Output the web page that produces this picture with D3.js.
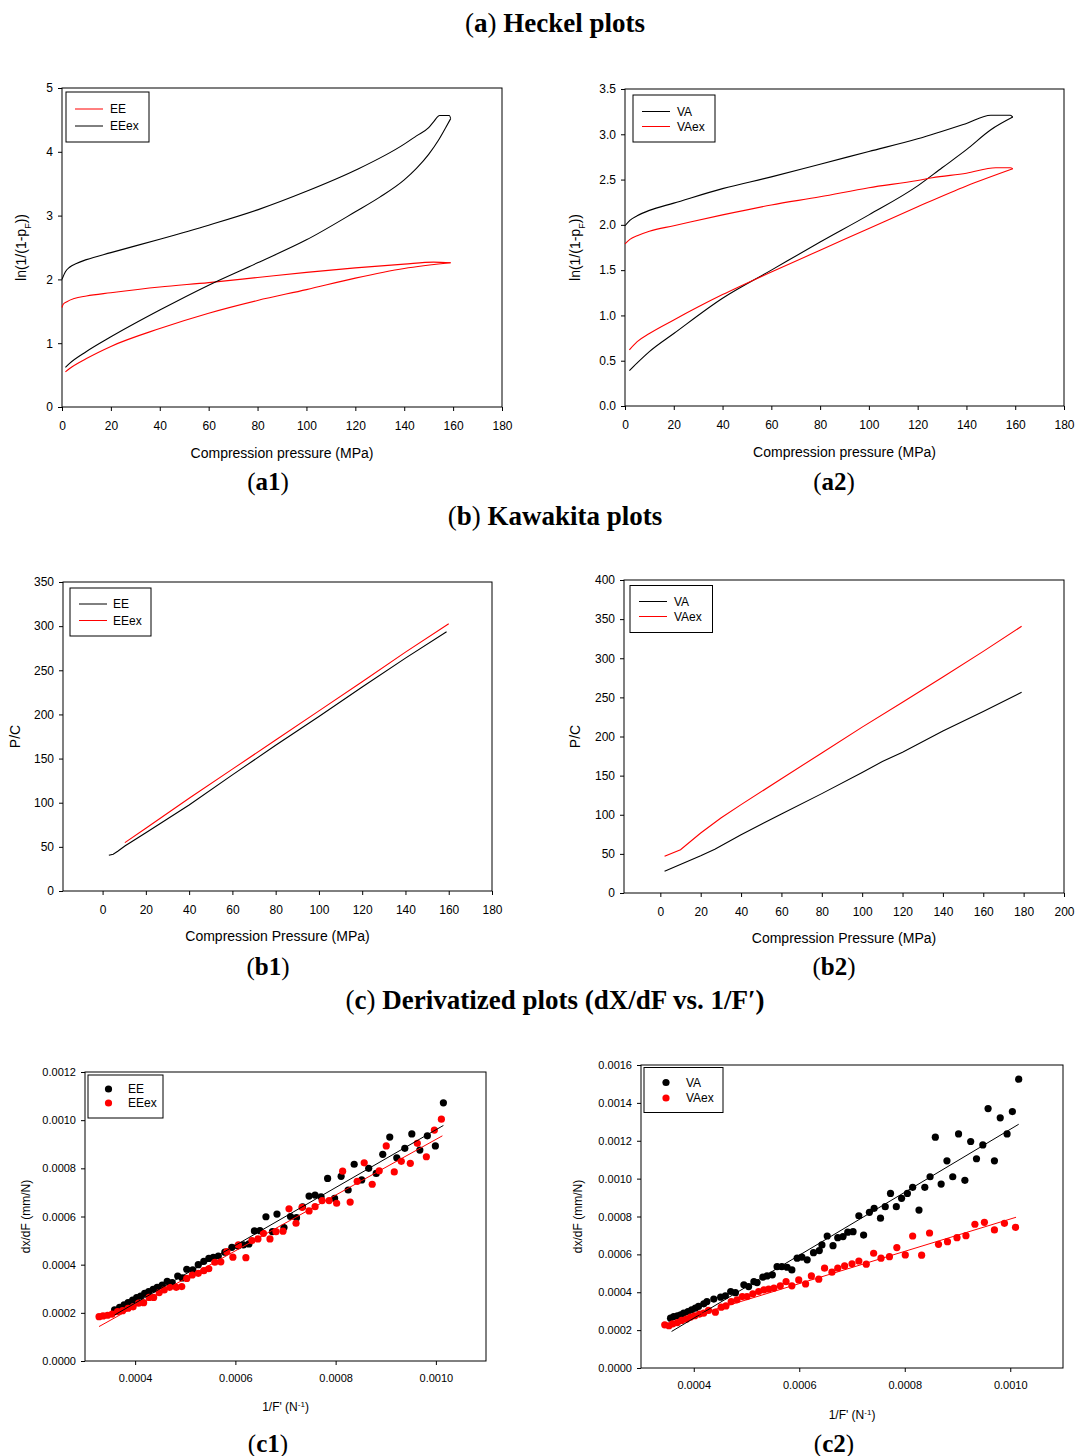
<!DOCTYPE html>
<html>
<head>
<meta charset="utf-8">
<script src="https://cdn.jsdelivr.net/npm/d3@7"></script>
<style>
body { margin: 0; background: #fff; }
text { font-family: "Liberation Sans", Arial, sans-serif; fill: #000; }
.ttl { font-family: "Liberation Serif", "Times New Roman", serif; }
</style>
</head>
<body>
<div id="container"></div>
<script>
// ---- data: Heckel plots (compression branch, then decompression branch back to 0) ----
const heckelEE = [[1.4,0.55],[3,0.60],[10,0.76],[20,0.95],[40,1.23],[60,1.47],[80,1.67],[100,1.84],[120,2.02],[140,2.17],[159,2.26],
  [152,2.27],[140,2.24],[120,2.18],[100,2.11],[80,2.03],[60,1.95],[40,1.88],[20,1.79],[10,1.74],[5,1.70],[2,1.65],[0.5,1.61],[0,1.56]];
const heckelEEex = [[1.4,0.62],[3,0.68],[10,0.87],[20,1.10],[40,1.52],[60,1.91],[80,2.26],[100,2.62],[120,3.06],[130,3.29],[140,3.56],[145,3.74],[150,3.96],[154,4.18],[157,4.38],[159,4.52],
  [158.5,4.57],[154.5,4.57],[152,4.47],[150,4.38],[145,4.25],[140,4.12],[120,3.71],[100,3.38],[80,3.09],[60,2.85],[40,2.63],[20,2.42],[10,2.31],[5.9,2.25],[3.1,2.19],[1.4,2.12],[0,2.0]];
const heckelVA = [[1.8,0.39],[4.8,0.47],[10,0.60],[20,0.80],[40,1.19],[60,1.50],[80,1.81],[100,2.11],[120,2.43],[130,2.63],[140,2.83],[150,3.05],[159,3.19],
  [158,3.21],[150,3.21],[140,3.12],[120,2.95],[100,2.81],[80,2.67],[60,2.53],[40,2.40],[20,2.24],[10,2.16],[5,2.10],[2,2.05],[0,1.99]];
const heckelVAex = [[1.8,0.62],[5,0.71],[10,0.80],[20,0.95],[40,1.23],[60,1.48],[80,1.72],[100,1.96],[120,2.20],[140,2.43],[159,2.62],
  [158,2.63],[152,2.63],[140,2.57],[126,2.52],[120,2.49],[100,2.41],[80,2.31],[60,2.22],[40,2.11],[20,1.99],[10,1.93],[5,1.88],[2,1.84],[0,1.79]];

// ---- data: Kawakita plots ----
const kawaEE = [[2.9,40.4],[4.9,41.6],[7,45],[10.3,51],[20,66],[40,97.5],[60,131.5],[80,165],[100,197.7],[120,231],[140,263.8],[159,293.6]];
const kawaEEex = [[10.3,54.8],[20,71],[40,105],[60,138],[80,171],[100,204],[120,237],[140,270.6],[160,302.7]];
const kawaVA = [[2.1,27.7],[20,47.7],[27,56],[40,74.5],[60,101],[80,127],[100,154],[110,168],[120,180],[140,207],[160,232],[179,256.4]];
const kawaVAex = [[2.1,46.9],[10,55.4],[20,76.7],[30,95.8],[40,112.9],[60,146],[80,179],[100,212],[120,243.7],[140,276],[160,308.8],[179,340.8]];

// ---- data: derivatized plots (1/F', dx/dF) ----
const derivEE = [[0.000359,0.000212],[0.000369,0.000223],[0.000378,0.000233],[0.000386,0.000242],[0.000395,0.000253],[0.000403,0.000263],[0.000411,0.000270],[0.000419,0.000281],[0.000427,0.000288],[0.000436,0.000298],[0.000444,0.000306],[0.000454,0.000315],[0.000464,0.000331],[0.000474,0.000326],[0.000485,0.000353],[0.000494,0.000345],[0.000503,0.000381],[0.000515,0.000378],[0.000526,0.000400],[0.000537,0.000414],[0.000547,0.000426],[0.000556,0.000430],[0.000566,0.000436],[0.000579,0.000452],[0.000593,0.000472],[0.000605,0.000477],[0.000616,0.000482],[0.000627,0.000486],[0.000638,0.000540],[0.000649,0.000541],[0.000661,0.000599],[0.000674,0.000537],[0.000683,0.000610],[0.000697,0.000554],[0.000710,0.000600],[0.000722,0.000595],[0.000734,0.000640],[0.000747,0.000685],[0.000759,0.000689],[0.000771,0.000682],[0.000784,0.000758],[0.000798,0.000675],[0.000811,0.000767],[0.000825,0.000710],[0.000837,0.000817],[0.000852,0.000752],[0.000866,0.000800],[0.000881,0.000779],[0.000894,0.000858],[0.000908,0.000930],[0.000922,0.000844],[0.000938,0.000883],[0.000952,0.000943],[0.000968,0.000876],[0.000983,0.000935],[0.000999,0.000893],[0.001015,0.001072]];
const derivEEex = [[0.000328,0.000184],[0.000336,0.000187],[0.000345,0.000190],[0.000354,0.000195],[0.000365,0.000205],[0.000375,0.000209],[0.000386,0.000219],[0.000396,0.000225],[0.000407,0.000240],[0.000417,0.000242],[0.000428,0.000264],[0.000437,0.000264],[0.000448,0.000284],[0.000458,0.000295],[0.000469,0.000306],[0.000482,0.000306],[0.000493,0.000309],[0.000503,0.000343],[0.000514,0.000357],[0.000526,0.000364],[0.000537,0.000375],[0.000547,0.000383],[0.000559,0.000410],[0.000571,0.000412],[0.000583,0.000454],[0.000595,0.000431],[0.000606,0.000482],[0.000621,0.000429],[0.000633,0.000500],[0.000645,0.000507],[0.000656,0.000530],[0.000669,0.000507],[0.000681,0.000537],[0.000695,0.000539],[0.000707,0.000632],[0.000721,0.000572],[0.000733,0.000638],[0.000747,0.000623],[0.000759,0.000641],[0.000773,0.000666],[0.000787,0.000666],[0.000802,0.000655],[0.000814,0.000788],[0.000829,0.000660],[0.000843,0.000746],[0.000857,0.000823],[0.000873,0.000734],[0.000887,0.000790],[0.000901,0.000893],[0.000917,0.000785],[0.000931,0.000829],[0.000949,0.000821],[0.000963,0.000904],[0.000981,0.000848],[0.000997,0.000959],[0.001011,0.001004]];
const derivVA = [[0.000356,0.000263],[0.000362,0.000272],[0.000369,0.000276],[0.000375,0.000281],[0.000381,0.000290],[0.000389,0.000298],[0.000396,0.000307],[0.000403,0.000316],[0.000409,0.000325],[0.000419,0.000339],[0.000425,0.000351],[0.000438,0.000364],[0.000451,0.000374],[0.000460,0.000381],[0.000470,0.000404],[0.000479,0.000398],[0.000495,0.000439],[0.000504,0.000430],[0.000514,0.000456],[0.000520,0.000451],[0.000531,0.000480],[0.000539,0.000486],[0.000549,0.000492],[0.000558,0.000535],[0.000567,0.000535],[0.000577,0.000532],[0.000586,0.000518],[0.000596,0.000580],[0.000605,0.000585],[0.000615,0.000571],[0.000627,0.000609],[0.000638,0.000620],[0.000643,0.000650],[0.000653,0.000697],[0.000664,0.000646],[0.000673,0.000688],[0.000683,0.000694],[0.000692,0.000717],[0.000702,0.000720],[0.000713,0.000804],[0.000722,0.000702],[0.000733,0.000822],[0.000742,0.000843],[0.000754,0.000791],[0.000763,0.000852],[0.000773,0.000922],[0.000784,0.000852],[0.000794,0.000896],[0.000805,0.000922],[0.000815,0.000954],[0.000827,0.000834],[0.000838,0.000954],[0.000848,0.001010],[0.000858,0.001219],[0.000869,0.000971],[0.000880,0.001094],[0.000891,0.001010],[0.000902,0.001236],[0.000914,0.000991],[0.000925,0.001196],[0.000936,0.001105],[0.000948,0.001178],[0.000958,0.001370],[0.000970,0.001094],[0.000981,0.001321],[0.000994,0.001236],[0.001004,0.001354],[0.001016,0.001525]];
const derivVAex = [[0.000345,0.000228],[0.000353,0.000223],[0.000360,0.000233],[0.000369,0.000240],[0.000377,0.000251],[0.000386,0.000258],[0.000394,0.000269],[0.000402,0.000276],[0.000411,0.000285],[0.000419,0.000290],[0.000428,0.000304],[0.000441,0.000295],[0.000452,0.000321],[0.000461,0.000328],[0.000471,0.000351],[0.000482,0.000360],[0.000492,0.000377],[0.000501,0.000377],[0.000512,0.000392],[0.000523,0.000404],[0.000533,0.000413],[0.000542,0.000416],[0.000552,0.000422],[0.000564,0.000434],[0.000575,0.000456],[0.000586,0.000434],[0.000599,0.000465],[0.000612,0.000444],[0.000623,0.000486],[0.000637,0.000469],[0.000648,0.000527],[0.000662,0.000506],[0.000673,0.000527],[0.000686,0.000539],[0.000700,0.000550],[0.000713,0.000565],[0.000727,0.000548],[0.000741,0.000606],[0.000755,0.000580],[0.000771,0.000588],[0.000785,0.000636],[0.000801,0.000597],[0.000815,0.000697],[0.000832,0.000596],[0.000847,0.000713],[0.000864,0.000653],[0.000881,0.000667],[0.000899,0.000688],[0.000916,0.000699],[0.000933,0.000759],[0.000951,0.000769],[0.000970,0.000729],[0.000989,0.000764],[0.001010,0.000743]];
// regression line end points
const fitEE = [[0.000359,0.000191],[0.001015,0.000978]];
const fitEEex = [[0.000328,0.000143],[0.001013,0.000935]];
const fitVA = [[0.000358,0.000193],[0.001016,0.001287]];
const fitVAex = [[0.000345,0.000228],[0.001011,0.000796]];

// ---- ticks ----
const ticks0to180 = d3.range(0, 181, 20);
const ticks0to200 = d3.range(0, 201, 20);
const ticksHeckelA1 = [0, 1, 2, 3, 4, 5];
const ticksHeckelA2 = [0, 0.5, 1, 1.5, 2, 2.5, 3, 3.5];
const ticksKawaB1 = d3.range(0, 351, 50);
const ticksKawaB2 = d3.range(0, 401, 50);
const ticksDerivX = [0.0004, 0.0006, 0.0008, 0.0010];
const ticksDerivC1 = [0, 0.0002, 0.0004, 0.0006, 0.0008, 0.0010, 0.0012];
const ticksDerivC2 = [0, 0.0002, 0.0004, 0.0006, 0.0008, 0.0010, 0.0012, 0.0014, 0.0016];

const svg = d3.select('#container')
  .append('svg')
  .attr('width', 1078)
  .attr('height', 1456);

// section titles and panel labels
function serifLabel(x, y, size, letter, rest) {
  const t = svg.append('text').attr('class', 'ttl').attr('x', x).attr('y', y)
    .attr('text-anchor', 'middle').style('font-size', size + 'px');
  t.append('tspan').text('(');
  t.append('tspan').attr('font-weight', 'bold').text(letter);
  t.append('tspan').text(')');
  if (rest) t.append('tspan').attr('font-weight', 'bold').text(rest);
}
serifLabel(555, 32, 27, 'a', ' Heckel plots');
serifLabel(555, 525, 27, 'b', ' Kawakita plots');
serifLabel(555, 1009, 27, 'c', ' Derivatized plots (dX/dF vs. 1/F\u2032)');
serifLabel(268, 490, 25, 'a1');
serifLabel(834, 490, 25, 'a2');
serifLabel(268, 975, 25, 'b1');
serifLabel(834, 975, 25, 'b2');
serifLabel(268, 1452, 25, 'c1');
serifLabel(834, 1452, 25, 'c2');

// split a loop into its loading and unloading branches, each sorted by x
function branches(data) {
  const iMax = d3.maxIndex(data, d => d[0]);
  const up = data.slice(0, iMax + 1);
  const down = data.slice(iMax).sort((a, b) => a[0] - b[0]);
  return [up, down];
}

function panel(p) {
  const x = d3.scaleLinear().domain(p.xDomain).range([p.left, p.right]);
  const y = d3.scaleLinear().domain(p.yDomain).range([p.bottom, p.top]);
  const g = svg.append('g');

  // axes (outward ticks)
  const ax = g.append('g').attr('transform', `translate(0,${p.bottom})`)
    .call(d3.axisBottom(x).tickValues(p.xTicks).tickFormat(p.xFmt).tickSize(4).tickPadding(p.xPad));
  const ay = g.append('g').attr('transform', `translate(${p.left},0)`)
    .call(d3.axisLeft(y).tickValues(p.yTicks).tickFormat(p.yFmt).tickSize(4).tickPadding(5));
  [ax, ay].forEach(a => {
    a.select('.domain').remove();
    a.selectAll('text').style('font-size', p.tickFont + 'px').style('font-family', '"Liberation Sans", Arial, sans-serif');
  });

  // frame
  g.append('rect')
    .attr('x', p.left).attr('y', p.top)
    .attr('width', p.right - p.left).attr('height', p.bottom - p.top)
    .attr('fill', 'none').attr('stroke', '#000').attr('stroke-width', 1);

  // axis titles
  g.append('text')
    .attr('x', (p.left + p.right) / 2).attr('y', p.bottom + p.xTitleDy)
    .attr('text-anchor', 'middle').style('font-size', p.titleFont + 'px')
    .call(p.xTitle);
  g.append('text')
    .attr('transform', `translate(${p.yTitleX},${(p.top + p.bottom) / 2}) rotate(-90)`)
    .attr('text-anchor', 'middle').style('font-size', p.titleFont + 'px')
    .call(p.yTitle);

  const plot = g.append('g');
  const line = (curve) => d3.line().x(d => x(d[0])).y(d => y(d[1])).curve(curve);

  // hysteresis loops (Heckel)
  (p.loops || []).forEach(s => {
    branches(s.data).forEach(b => {
      plot.append('path')
        .attr('d', line(d3.curveMonotoneX)(b))
        .attr('fill', 'none')
        .attr('stroke', s.color)
        .attr('stroke-width', 1.1);
    });
  });

  // line series
  (p.lines || []).forEach(s => {
    plot.append('path')
      .attr('d', line(d3.curveLinear)(s.data))
      .attr('fill', 'none')
      .attr('stroke', s.color)
      .attr('stroke-width', 1.1);
  });

  // scatter series
  (p.points || []).forEach(s => {
    plot.selectAll(null)
      .data(s.data)
      .enter().append('circle')
      .attr('cx', d => x(d[0]))
      .attr('cy', d => y(d[1]))
      .attr('r', 3.6)
      .attr('fill', s.color);
  });
  (p.fits || []).forEach(s => {
    plot.append('path')
      .attr('d', line(d3.curveLinear)(s.data))
      .attr('stroke', s.color)
      .attr('stroke-width', 1);
  });

  // legend
  const L = p.legend;
  g.append('rect')
    .attr('x', L.x).attr('y', L.y).attr('width', L.w).attr('height', L.h)
    .attr('fill', '#fff').attr('stroke', '#000').attr('stroke-width', 1);
  L.items.forEach((it, i) => {
    const yy = L.y + L.first + i * L.step;
    if (L.marker) {
      g.append('circle').attr('cx', L.x + L.sym).attr('cy', yy).attr('r', 3.6).attr('fill', it.color);
    } else {
      g.append('line')
        .attr('x1', L.x + L.sym).attr('x2', L.x + L.sym + 28)
        .attr('y1', yy).attr('y2', yy)
        .attr('stroke', it.color).attr('stroke-width', 1);
    }
    g.append('text')
      .attr('x', L.x + L.text).attr('y', yy).attr('dy', '0.35em')
      .style('font-size', '12px').text(it.label);
  });
}

const fmtInt = d3.format('d');
const fmt1 = d3.format('.1f');
const fmt4 = d3.format('.4f');

const heckelY = t => {
  t.text('ln(1/(1-p');
  t.append('tspan').attr('baseline-shift', 'sub').style('font-size', '9px').text('F');
  t.append('tspan').text('))');
};
const derivX = t => {
  t.text("1/F' (N");
  t.append('tspan').attr('baseline-shift', 'super').style('font-size', '8px').text('-1');
  t.append('tspan').text(')');
};

// (a1)
panel({
  left: 62, right: 502, top: 88, bottom: 407,
  xDomain: [0, 180], yDomain: [0, 5],
  xTicks: ticks0to180, yTicks: ticksHeckelA1, xFmt: fmtInt, yFmt: fmtInt,
  xPad: 10, tickFont: 12, titleFont: 14, xTitleDy: 51, yTitleX: 26,
  xTitle: t => t.text('Compression pressure (MPa)'), yTitle: heckelY,
  loops: [{ data: heckelEE, color: 'red' }, { data: heckelEEex, color: '#000' }],
  legend: { x: 66, y: 92, w: 83, h: 50, first: 17, step: 17, sym: 9, text: 44,
    items: [{ label: 'EE', color: 'red' }, { label: 'EEex', color: '#000' }] }
});

// (a2)
panel({
  left: 625, right: 1064, top: 89, bottom: 406,
  xDomain: [0, 180], yDomain: [0, 3.5],
  xTicks: ticks0to180, yTicks: ticksHeckelA2, xFmt: fmtInt, yFmt: fmt1,
  xPad: 10, tickFont: 12, titleFont: 14, xTitleDy: 51, yTitleX: 580,
  xTitle: t => t.text('Compression pressure (MPa)'), yTitle: heckelY,
  loops: [{ data: heckelVA, color: '#000' }, { data: heckelVAex, color: 'red' }],
  legend: { x: 633, y: 95, w: 82, h: 47, first: 16.5, step: 15, sym: 9, text: 44,
    items: [{ label: 'VA', color: '#000' }, { label: 'VAex', color: 'red' }] }
});

// (b1)
panel({
  left: 63, right: 492, top: 582, bottom: 891,
  xDomain: [-18.3, 180], yDomain: [0, 350],
  xTicks: ticks0to180, yTicks: ticksKawaB1, xFmt: fmtInt, yFmt: fmtInt,
  xPad: 10, tickFont: 12, titleFont: 14, xTitleDy: 50, yTitleX: 20,
  xTitle: t => t.text('Compression Pressure (MPa)'), yTitle: t => t.text('P/C'),
  lines: [{ data: kawaEE, color: '#000' }, { data: kawaEEex, color: 'red' }],
  legend: { x: 70, y: 588, w: 81, h: 48, first: 16, step: 16.5, sym: 9, text: 43,
    items: [{ label: 'EE', color: '#000' }, { label: 'EEex', color: 'red' }] }
});

// (b2)
panel({
  left: 624, right: 1064, top: 580, bottom: 893,
  xDomain: [-18, 200], yDomain: [0, 400],
  xTicks: ticks0to200, yTicks: ticksKawaB2, xFmt: fmtInt, yFmt: fmtInt,
  xPad: 10, tickFont: 12, titleFont: 14, xTitleDy: 50, yTitleX: 580,
  xTitle: t => t.text('Compression Pressure (MPa)'), yTitle: t => t.text('P/C'),
  lines: [{ data: kawaVA, color: '#000' }, { data: kawaVAex, color: 'red' }],
  legend: { x: 630, y: 585.5, w: 82.5, h: 47, first: 16, step: 15, sym: 9, text: 44,
    items: [{ label: 'VA', color: '#000' }, { label: 'VAex', color: 'red' }] }
});

// (c1)
panel({
  left: 85, right: 486, top: 1072, bottom: 1361,
  xDomain: [0.0003, 0.0011], yDomain: [0, 0.0012],
  xTicks: ticksDerivX, yTicks: ticksDerivC1, xFmt: fmt4, yFmt: fmt4,
  xPad: 9, tickFont: 11, titleFont: 12, xTitleDy: 50, yTitleX: 30,
  xTitle: derivX, yTitle: t => t.text('dx/dF (mm/N)'),
  points: [{ data: derivEE, color: '#000' }, { data: derivEEex, color: 'red' }],
  fits: [{ data: fitEE, color: '#000' }, { data: fitEEex, color: 'red' }],
  legend: { x: 88, y: 1075, w: 75, h: 43, first: 14, step: 14, marker: true, sym: 20.5, text: 40,
    items: [{ label: 'EE', color: '#000' }, { label: 'EEex', color: 'red' }] }
});

// (c2)
panel({
  left: 641, right: 1063, top: 1065, bottom: 1368,
  xDomain: [0.0003, 0.0011], yDomain: [0, 0.0016],
  xTicks: ticksDerivX, yTicks: ticksDerivC2, xFmt: fmt4, yFmt: fmt4,
  xPad: 9, tickFont: 11, titleFont: 12, xTitleDy: 51, yTitleX: 582,
  xTitle: derivX, yTitle: t => t.text('dx/dF (mm/N)'),
  points: [{ data: derivVA, color: '#000' }, { data: derivVAex, color: 'red' }],
  fits: [{ data: fitVA, color: '#000' }, { data: fitVAex, color: 'red' }],
  legend: { x: 644, y: 1067.5, w: 79, h: 45, first: 15, step: 15.5, marker: true, sym: 22, text: 42,
    items: [{ label: 'VA', color: '#000' }, { label: 'VAex', color: 'red' }] }
});
</script>
</body>
</html>
